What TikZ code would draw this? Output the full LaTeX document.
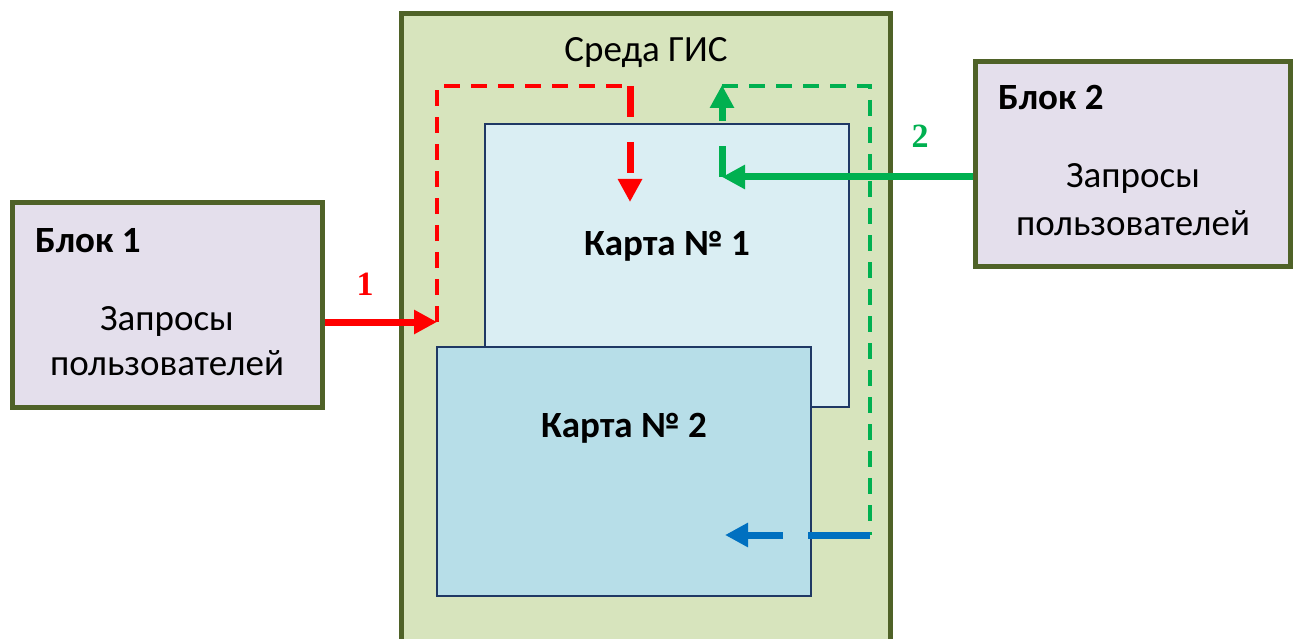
\documentclass[tikz,border=0pt]{standalone}
\usepackage{fontspec}
\setmainfont{Carlito}
\newfontfamily\numfont{Liberation Serif}
\usetikzlibrary{arrows.meta}

\definecolor{olive}{HTML}{4F6228}
\definecolor{gisfill}{HTML}{D7E4BD}
\definecolor{blockfill}{HTML}{E4DFEC}
\definecolor{mapone}{HTML}{DAEEF3}
\definecolor{maptwo}{HTML}{B7DEE8}
\definecolor{mapline}{HTML}{1F3864}
\definecolor{qred}{HTML}{FF0000}
\definecolor{qgreen}{HTML}{00B050}
\definecolor{qblue}{HTML}{0070C0}

\tikzset{
  blockbox/.style={draw=olive, line width=5pt, fill=blockfill, rectangle, inner sep=0pt},
  gisbox/.style={draw=olive, line width=5pt, fill=gisfill, rectangle, inner sep=0pt},
  mapbox/.style={draw=mapline, line width=1.8pt, rectangle, inner sep=0pt},
  txt/.style={font=\fontsize{37}{44}\selectfont, anchor=base, inner sep=0pt},
  btxt/.style={font=\fontsize{37}{44}\selectfont\bfseries, anchor=base, inner sep=0pt},
  numtxt/.style={font=\fontsize{34}{40}\selectfont\numfont\bfseries, anchor=base, inner sep=0pt},
  tip/.style={-{Triangle[length=23pt,width=23pt]}},
  mainarrow/.style={tip, line width=7pt},
  flowarrow/.style={tip, line width=7pt, dash pattern=on 31pt off 25pt},
  thindash/.style={line width=3.5pt, dash pattern=on 16pt off 11pt},
}

\begin{document}
\begin{tikzpicture}[x=1pt, y=-1pt]
\useasboundingbox (0,0) rectangle (1300,639);

% environment and maps
\node[gisbox, minimum width=489pt, minimum height=666pt] (gis) at (645.5,346.5) {};
\node[txt] (gistitle) at (646,62) {Среда ГИС};
\node[mapbox, fill=mapone, minimum width=364pt, minimum height=283pt] (map1) at (667,265.5) {};
\node[mapbox, fill=maptwo, minimum width=374pt, minimum height=249pt] (map2) at (624,471.5) {};
\node[btxt] (map1label) at (667,255) {Карта № 1};
\node[btxt] (map2label) at (624,437) {Карта № 2};

% request blocks
\node[blockbox, minimum width=310pt, minimum height=205pt] (b1) at (167,304.5) {};
\node[btxt, anchor=base west] (b1title) at (35,252) {Блок 1};
\node[txt] (b1l1) at (167,330) {Запросы};
\node[txt] (b1l2) at (167,375) {пользователей};

\node[blockbox, minimum width=315pt, minimum height=204pt] (b2) at (1132.5,164) {};
\node[btxt, anchor=base west] (b2title) at (998,110) {Блок 2};
\node[txt] (b2l1) at (1133,188) {Запросы};
\node[txt] (b2l2) at (1133,235) {пользователей};

% route coordinates
\coordinate (r1) at (437,322);
\coordinate (r2) at (437,86);
\coordinate (r3) at (630,86);
\coordinate (r4) at (630,202);
\coordinate (g1) at (722,177);
\coordinate (g2) at (722,85);
\coordinate (g3) at (722,86);
\coordinate (g4) at (870,86);
\coordinate (g5) at (870,535);
\coordinate (u1) at (725,535);

% request 1
\draw[thindash, qred] (r1) -- (r2) -- (r3);
\draw[flowarrow, qred] (r3) -- (r4);
\draw[mainarrow, qred] (b1.east |- r1) -- (r1);
\node[numtxt, text=qred] (n1) at (365,295) {1};

% request 2
\draw[thindash, qgreen] (g3) -- (g4) -- (g5);
\draw[flowarrow, qgreen] (g1) -- (g2);
\draw[mainarrow, qgreen] (b2.west |- g1) -- (g1);
\node[numtxt, text=qgreen] (n2) at (920,148) {2};

% update of map 2
\draw[tip, qblue, line width=7pt, dash pattern=on 62pt off 25pt] (g5) -- (u1);
\end{tikzpicture}
\end{document}
